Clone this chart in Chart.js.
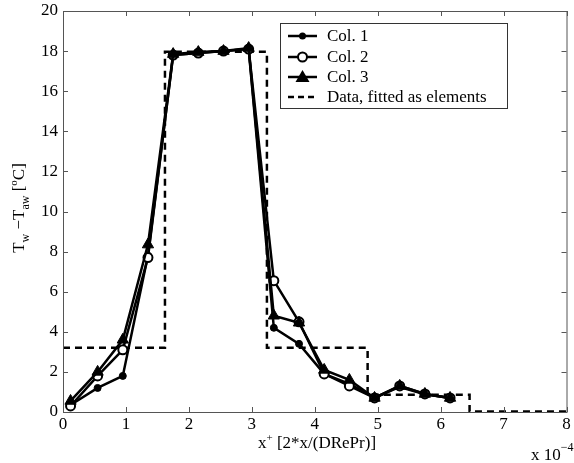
<!DOCTYPE html>
<html>
<head>
<meta charset="utf-8">
<script src="https://cdn.jsdelivr.net/npm/chart.js@4.4.1/dist/chart.umd.min.js"></script>
<style>
html,body{margin:0;padding:0;background:#fff;}
#wrap{width:574px;height:463px;position:relative;}
</style>
</head>
<body>
<div id="wrap"><canvas id="c" width="574" height="463"></canvas></div>
<script>
// x positions (units of 1e-4)
const xPos = [0.12, 0.55, 0.95, 1.35, 1.75, 2.15, 2.55, 2.95, 3.35, 3.75, 4.15, 4.55, 4.95, 5.35, 5.75, 6.15];
const col1 = [0.35, 1.2, 1.8, 7.8, 17.8, 17.9, 18.0, 18.1, 4.2, 3.4, 1.9, 1.4, 0.7, 1.25, 0.88, 0.7];
const col2 = [0.3, 1.8, 3.1, 7.7, 17.8, 17.9, 18.0, 18.1, 6.55, 4.5, 1.9, 1.3, 0.7, 1.3, 0.9, 0.7];
const col3 = [0.55, 2.0, 3.6, 8.35, 17.85, 17.95, 18.0, 18.15, 4.8, 4.45, 2.1, 1.6, 0.7, 1.3, 0.9, 0.7];
// stepwise fitted elements
const stepX = [0, 1.62, 1.62, 3.24, 3.24, 4.84, 4.84, 6.46, 6.46, 8.0];
const stepY = [3.2, 3.2, 17.97, 17.97, 3.2, 3.2, 0.86, 0.86, 0.02, 0.02];
const xTicks = [0, 1, 2, 3, 4, 5, 6, 7, 8];
const yTicks = [0, 2, 4, 6, 8, 10, 12, 14, 16, 18, 20];
const seriesNames = ['Col. 1', 'Col. 2', 'Col. 3', 'Data, fitted as elements'];

const FONT = '"Liberation Serif", "Times New Roman", serif';
const pts = (ys) => xPos.map((x, i) => ({x: x, y: ys[i]}));

const decor = {
  id: 'decor',
  afterDraw(chart) {
    const ctx = chart.ctx;
    const a = chart.chartArea;
    const xs = chart.scales.x, ys = chart.scales.y;
    ctx.save();
    // box
    ctx.strokeStyle = '#555';
    ctx.lineWidth = 1;
    ctx.strokeRect(a.left + 0.5, a.top + 0.5, a.right - a.left, a.bottom - a.top);
    // inward ticks
    const tl = 5;
    ctx.beginPath();
    xTicks.forEach(v => {
      const px = Math.round(xs.getPixelForValue(v)) + 0.5;
      ctx.moveTo(px, a.bottom); ctx.lineTo(px, a.bottom - tl);
      ctx.moveTo(px, a.top); ctx.lineTo(px, a.top + tl);
    });
    yTicks.forEach(v => {
      const py = Math.round(ys.getPixelForValue(v)) + 0.5;
      ctx.moveTo(a.left, py); ctx.lineTo(a.left + tl, py);
      ctx.moveTo(a.right, py); ctx.lineTo(a.right - tl, py);
    });
    ctx.stroke();

    ctx.fillStyle = '#000';
    // x tick labels
    ctx.font = '17px ' + FONT;
    ctx.textAlign = 'center';
    ctx.textBaseline = 'top';
    xTicks.forEach(v => {
      ctx.fillText(String(v), xs.getPixelForValue(v), a.bottom + 4);
    });
    // x title
    ctx.textBaseline = 'alphabetic';
    const xt = [['x', 17, 0], ['+', 11, -7], [' [2*x/(DRePr)]', 17, 0]];
    drawRich(ctx, xt, 317, 448, 'center');
    // exponent label
    drawRich(ctx, [['x 10', 17, 0], ['\u22124', 12, -9]], 531, 460, 'left');

    // y title rotated
    ctx.save();
    ctx.translate(24, 208);
    ctx.rotate(-Math.PI / 2);
    drawRich(ctx, [['T', 17, 0], ['w', 12, 5], [' \u2212T', 17, 0], ['aw', 12, 5], [' [', 17, 0], ['o', 11, -7], ['C]', 17, 0]], 0, 0, 'center');
    ctx.restore();

    // legend
    const lx = 280.5, ly = 23.5, lw = 227, lh = 85;
    ctx.fillStyle = '#fff';
    ctx.fillRect(lx, ly, lw, lh);
    ctx.strokeStyle = '#333';
    ctx.lineWidth = 1;
    ctx.strokeRect(lx, ly, lw, lh);
    const rows = [36, 57, 77, 97];
    ctx.font = '17px ' + FONT;
    ctx.textBaseline = 'middle';
    ctx.textAlign = 'left';
    rows.forEach((ry, i) => {
      ctx.strokeStyle = '#000';
      ctx.lineWidth = 2.5;
      ctx.beginPath();
      if (i === 3) ctx.setLineDash([6, 4]); else ctx.setLineDash([]);
      ctx.moveTo(288, ry); ctx.lineTo(317, ry);
      ctx.stroke();
      ctx.setLineDash([]);
      const cx = 302.5;
      if (i === 0) {
        ctx.fillStyle = '#000';
        ctx.beginPath(); ctx.arc(cx, ry, 3.5, 0, 2 * Math.PI); ctx.fill();
      } else if (i === 1) {
        ctx.fillStyle = '#fff'; ctx.lineWidth = 2;
        ctx.beginPath(); ctx.arc(cx, ry, 4.5, 0, 2 * Math.PI); ctx.fill(); ctx.stroke();
      } else if (i === 2) {
        ctx.fillStyle = '#000';
        ctx.beginPath(); ctx.moveTo(cx, ry - 7); ctx.lineTo(cx + 7, ry + 5); ctx.lineTo(cx - 7, ry + 5); ctx.closePath(); ctx.fill();
      }
      ctx.fillStyle = '#000';
      ctx.fillText(seriesNames[i], 327, ry + 1);
    });
    ctx.restore();
  }
};

function drawRich(ctx, parts, x, y, align) {
  let total = 0;
  parts.forEach(p => { ctx.font = p[1] + 'px ' + FONT; total += ctx.measureText(p[0]).width; });
  let cx = align === 'center' ? x - total / 2 : x;
  ctx.textAlign = 'left';
  parts.forEach(p => {
    ctx.font = p[1] + 'px ' + FONT;
    ctx.fillText(p[0], cx, y + p[2]);
    cx += ctx.measureText(p[0]).width;
  });
}

new Chart(document.getElementById('c'), {
  type: 'scatter',
  data: {
    datasets: [
      { label: seriesNames[3], data: stepX.map((x, i) => ({x: x, y: stepY[i]})), showLine: true, borderColor: '#000', borderWidth: 2.5, borderDash: [7, 5], pointRadius: 0, fill: false, order: 4 },
      { label: seriesNames[0], data: pts(col1), showLine: true, borderColor: '#000', borderWidth: 2.5, pointStyle: 'circle', pointRadius: 3.5, pointBackgroundColor: '#000', pointBorderColor: '#000', pointBorderWidth: 1, order: 3 },
      { label: seriesNames[1], data: pts(col2), showLine: true, borderColor: '#000', borderWidth: 2.5, pointStyle: 'circle', pointRadius: 4.5, pointBackgroundColor: '#fff', pointBorderColor: '#000', pointBorderWidth: 2, order: 2 },
      { label: seriesNames[2], data: pts(col3), showLine: true, borderColor: '#000', borderWidth: 2.5, pointStyle: 'triangle', pointRadius: 6.5, pointBackgroundColor: '#000', pointBorderColor: '#000', pointBorderWidth: 1, order: 1 }
    ]
  },
  options: {
    responsive: false,
    animation: false,
    events: [],
    layout: { padding: { left: 0, top: 11, right: 4, bottom: 0 } },
    plugins: { legend: { display: false }, tooltip: { enabled: false } },
    scales: {
      x: {
        type: 'linear', min: 0, max: 8,
        afterBuildTicks: (s) => { s.ticks = xTicks.map(v => ({value: v})); },
        afterFit: (s) => { s.height = 51; s.paddingRight = 0; s.paddingLeft = 0; },
        grid: { display: false, drawTicks: false },
        border: { display: false },
        ticks: { display: false }
      },
      y: {
        type: 'linear', min: 0, max: 20,
        afterBuildTicks: (s) => { s.ticks = yTicks.map(v => ({value: v})); },
        afterFit: (s) => { s.width = 63; s.paddingTop = 0; s.paddingBottom = 0; },
        grid: { display: false, drawTicks: false },
        border: { display: false },
        ticks: { color: '#000', font: { family: FONT, size: 17 }, padding: 5 }
      }
    }
  },
  plugins: [decor]
});
</script>
</body>
</html>
